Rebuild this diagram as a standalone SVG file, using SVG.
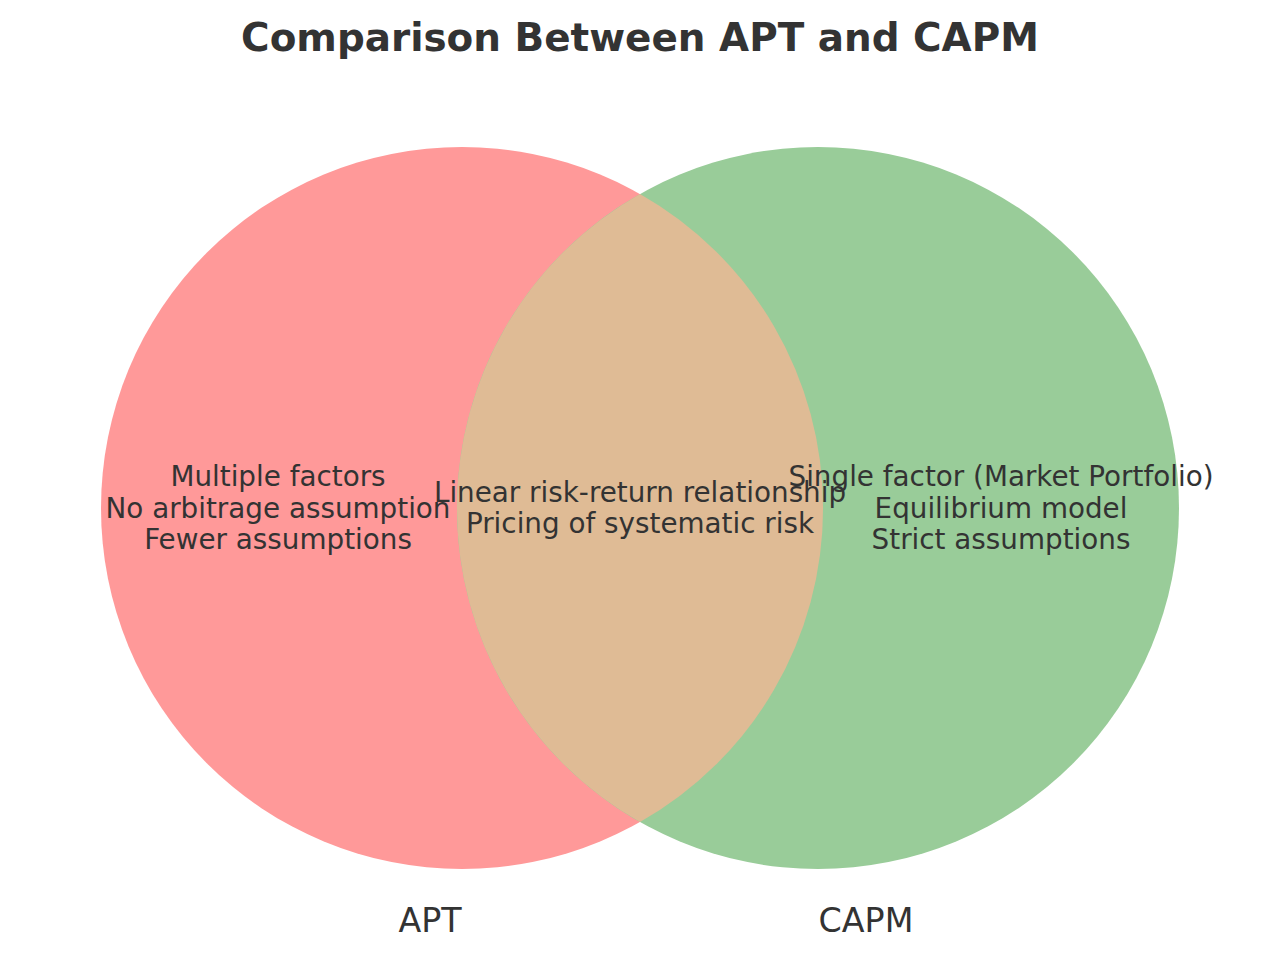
<svg xmlns="http://www.w3.org/2000/svg" width="1280" height="971" viewBox="0 0 1280 971">
<style>
text{font-family:"DejaVu Sans","Liberation Sans",sans-serif;fill:#333333;text-anchor:middle}
.t{font-size:38.9px;font-weight:bold}
.b{font-size:27.8px}
.l{font-size:33.3px}
</style>
<rect width="1280" height="971" fill="#ffffff"/>
<text class="t" x="640" y="51">Comparison Between APT and CAPM</text>
<g id="apt">
<circle cx="462" cy="508" r="361" fill="#ff9999"/>
</g>
<g id="capm">
<circle cx="818" cy="508" r="361" fill="#99cc99"/>
</g>
<g id="overlap">
<path d="M640,193.9 A361,361 0 0,1 640,822.1 A361,361 0 0,1 640,193.9 Z" fill="#dfbb95"/>
</g>
<g id="labels-apt">
<text class="b" x="278" y="486">Multiple factors</text>
<text class="b" x="278" y="518">No arbitrage assumption</text>
<text class="b" x="278" y="549">Fewer assumptions</text>
</g>
<g id="labels-overlap">
<text class="b" x="640" y="502">Linear risk-return relationship</text>
<text class="b" x="640" y="533">Pricing of systematic risk</text>
</g>
<g id="labels-capm">
<text class="b" x="1001" y="486">Single factor (Market Portfolio)</text>
<text class="b" x="1001" y="518">Equilibrium model</text>
<text class="b" x="1001" y="549">Strict assumptions</text>
</g>
<g id="set-labels">
<text class="l" x="430" y="932">APT</text>
<text class="l" x="866" y="932">CAPM</text>
</g>
<g id="connectors"/>
</svg>
